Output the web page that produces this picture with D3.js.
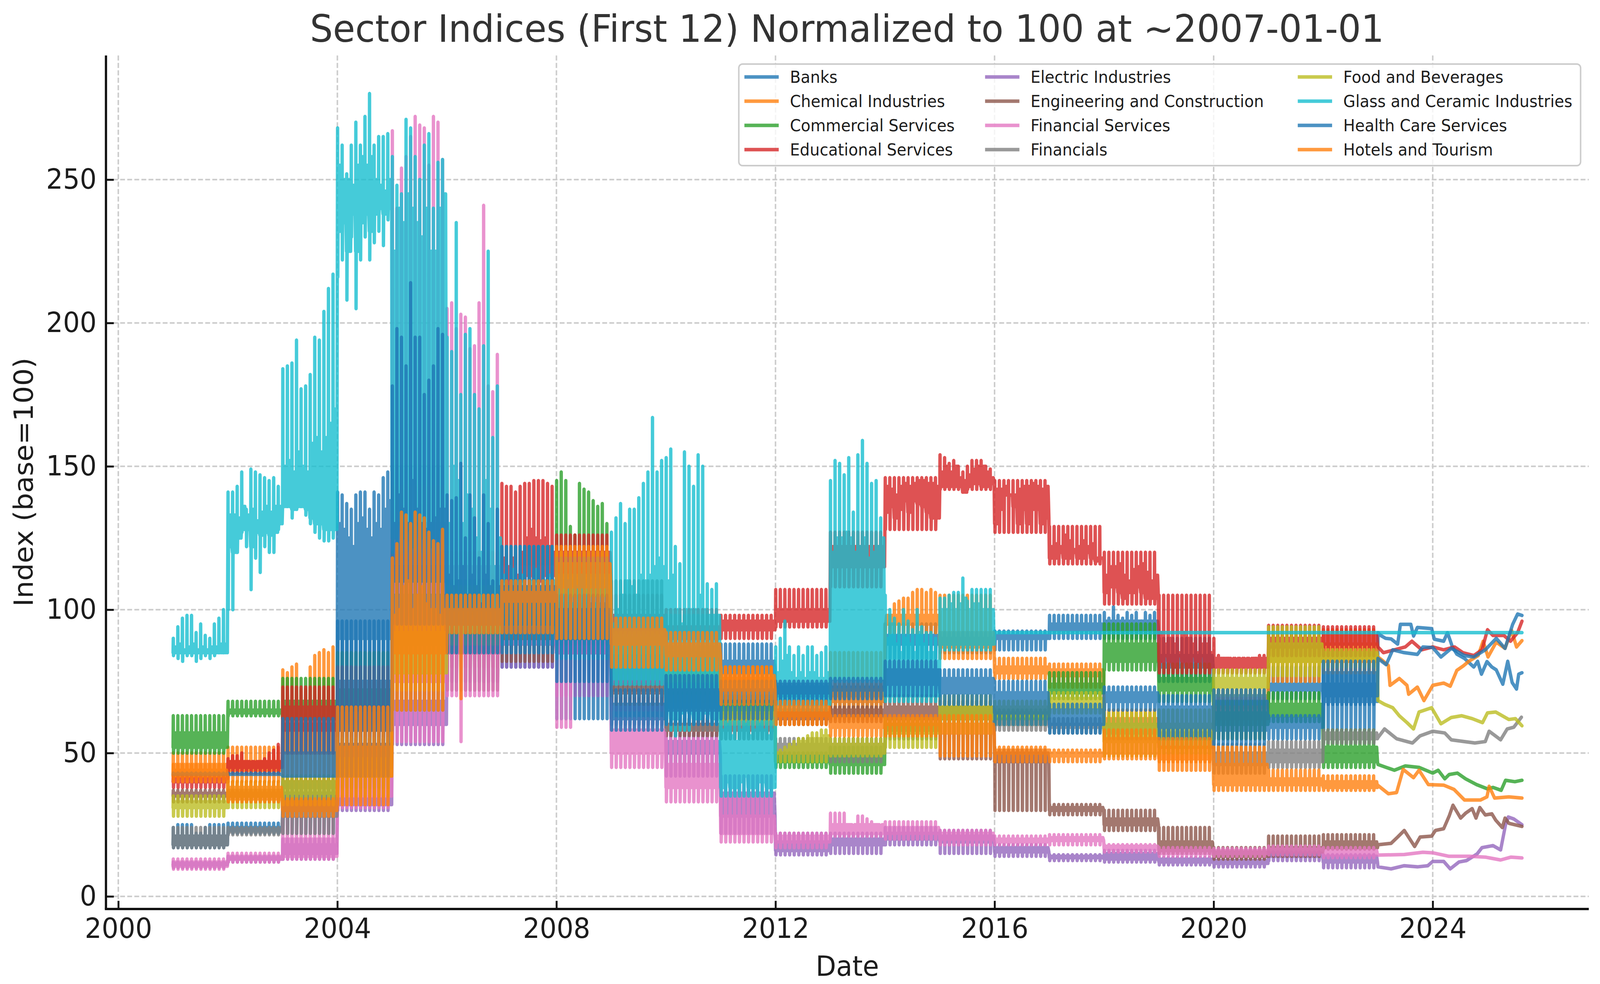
<!DOCTYPE html>
<html><head><meta charset="utf-8">
<script src="https://cdn.jsdelivr.net/npm/d3@7/dist/d3.min.js"></script>
<style>html,body{margin:0;background:#fff;overflow:hidden}svg{display:block;width:100vw;height:100vh;font-family:"DejaVu Sans",sans-serif}</style>
</head><body><svg id="c" viewBox="0 0 4288 2519" preserveAspectRatio="none"></svg>
<script>
const chartTitle="Sector Indices (First 12) Normalized to 100 at ~2007-01-01";
const xLabel="Date", yLabel="Index (base=100)";
const xTicks=[2000,2004,2008,2012,2016,2020,2024];
const yTicks=[0,50,100,150,200,250];
const bandYears=d3.range(2001,2023);
const seriesNames=["Banks","Chemical Industries","Commercial Services","Educational Services","Electric Industries","Engineering and Construction","Financial Services","Financials","Food and Beverages","Glass and Ceramic Industries","Health Care Services","Hotels and Tourism"];
const palette=["#1f77b4","#ff7f0e","#2ca02c","#d62728","#9467bd","#8c564b","#e377c2","#7f7f7f","#bcbd22","#17becf","#1f77b4","#ff7f0e"];

// one entry per year 2001..2022: a number, or a list of monthly read-offs.
// Low/High = spike ends; Base and Fill = the two edges of the solid core of the band.
const banksLow=[17,22,22,60,80,82,80,62,60,58,75,67,66,83,85,86,90,90,75,60,69,58];
const banksBase=[18,23,30,90,95,92,90,85,72,66,78,70,70,88,88,90,93,93,80,66,72,68];
const banksFill=[21,24,36,[130,128,125,122,130,132,128,125,130,128,135,138],115,98,96,92,80,74,82,73,73,91,90,91,95,96,84,70,74,74];
const banksHigh=[[24,25,25,25,25,22,22,24,25,25,25,25],25.5,40,[141,140,137,135,140,141,141,135,141,140,146,148],150,105,110,105,95,88,88,74,74,95,92,92.5,98,[99,97,101,98,97,99,98,99,96,99,98,99],90,72,80,82];
const chemLow=[41,40,40,33,70,85,88,95,78,78,66,60,62,92,83,76,73,55,47,55,75,78];
const chemBase=[42,44,50,42,85,95,102,105,85,84,72,63,68,95,87,78,77,60,52,62,82,82];
const chemFill=[46,47,60,48,95,103,105,112,90,87,76,65,72,98,92,80,79,62,54,66,87,88];
const chemHigh=[50,52,[79,78,80,81,72,72,80,84,85,86,85,87],55,100,112,108,120,95,90,80,67,85,[92,97,102,103,104,104,106,107,107,106,107,106],105,83,81,65,56,72,92,93];
const commLow=[50,63,58,60,75,85,95,97,74,68,60,45,43,55,60,60,69,79,68,55,61,45];
const commBase=[52,64,62,65,85,92,100,105,78,71,64,47,46,58,62,62,71,82,72,60,63,47];
const commFill=[57,65,68,72,92,96,106,110,85,78,68,49,49,60,64,64,74,88,76,64,67,52];
const commHigh=[63,68,76,85,100,100,112,[145,148,145,129,126,144,142,141,138,136,137,130],88,82,70,50,52,62,66,65,78,95,81,68,71,58];
const eduLow=[38,43,50,50,70,80,100,105,85,85,90,94,108,128,142,127,116,102,78,78,84,84];
const eduBase=[40,45,58,58,88,90,[110,108,108,105,110,112,112,110,110,112,112,112],112,92,90,93,96,115,[134,136,132,135,138,134,138,137,136,134,132,132],[143,143,143,143,143,141,143,144,144,143,143,144],[130,135,140,140,136,130,135,130,135,135,130,132],[118,118,120,118,118,120,118,118,120,118,117,118],[106,108,108,106,104,106,106,108,106,104,104,104],[82,84,82,80,84,82,80,84,82,84,80,80],80,87,88];
const eduFill=[41,47,66,66,100,100,[118,115,118,112,120,125,128,125,124,125,122,120],120,98,94,96,100,122,[143,142,140,143,144,143,144,145,145,144,144,143],[148,150,148,150,146,145,147,149,150,150,148,146],[142,142,143,140,140,142,143,143,144,143,142,143],[122,123,122,126,124,121,122,124,122,123,118,118],[112,115,115,116,112,110,114,115,116,113,110,112],[92,88,90,88,85,92,90,88,85,88,88,85],83,90,91];
const eduHigh=[42,[48,49,49,50,47,46,46,47,48,50,51,53],73,80,115,120,[144,143,143,141,143,144,144,145,145,145,144,143],126,105,100,98,107,127,146,[154,153,151,152,150,148,150,152,152,152,150,149],145,129,120,105,[90,84,83,83,82,81,81,80,82,83,84,84],94.5,94];
const elecLow=[10,12,13,30,53,75,80,70,65,42,22,14.5,15,18,15,14,12.5,12,11,10.3,12.5,10];
const elecBase=[11,13,15,32,60,85,88,85,75,50,28,16,18,20,19,15.5,13.5,13,12,11.5,14,12];
const elecFill=[11.5,13.5,18,34,68,92,94,92,82,54,36,19,20,22,21,17,14,15,13,12.5,15,14];
const elecHigh=[12,14,20,35,75,100,100,105,90,57,42,22,22,24,23,18,14.5,16,13.5,13,15.5,14.5];
const engLow=[33,33,33,40,65,72,82,88,67,56,55,60,61,59,48,30,28.5,23,15,13,14,16.5];
const engBase=[35,35,38,48,85,85,90,95,71,58,58,62,63,62,62,47,30,25,16,14,15.5,17];
const engFill=[36,36,40,53,105,92,95,102,73,60,59,64,65,66,66,50,31,27,19,15.5,17,19];
const engHigh=[37,37,42,60,143,100,100,110,75,62,60,66,66,70,68,51,32,30,24,17,21,21.5];
const finSvcLow=[9.5,12,13,31,54,[70,70,70,54,70,70,70,70,70,70,70,70],88,[59,59,59,59,85,85,85,85,85,85,85,85],45,33,19,17,21,20,18,18,18,15.5,14,14,14.5,13.5];
const finSvcBase=[10.5,13,14,35,75,85,95,85,50,38,22,19,22,22,20,19,19.5,16.5,15,15,15.5,14.5];
const finSvcFill=[12,14,20,42,130,115,105,100,58,46,28,21,25,24,22,20,20.5,17.5,16,16,16.5,16];
const finSvcHigh=[13,15,28,47,[267,240,254,258,265,272,269,268,255,272,270,257],[205,207,198,203,202,191,192,207,241,178,176,189],115,110,62,55,35,22,[29,29,29,29,25,23,28,28,27,26,25,22],26,23,21,21.5,18,17,16.7,17.5,17];
const finsLow=[17,21.5,22,38,65,85,85,88,70,58,55,48,47,55,55,58,57,55,52,43,45,53.5];
const finsBase=[18,22.5,28,45,88,95,92,100,85,72,60,50,50,58,62,60,59,57,55,46,47,55];
const finsFill=[21,23.5,36,50,105,105,98,108,96,85,63,53,53,60,66,61,60,60,57,50,51,57];
const finsHigh=[24,24,40,55,120,110,105,115,110,98,65,55,55,62,68,62,62,62,58,53,54,58];
const foodLow=[28,31,32,35,72,88,90,95,80,75,60,47,49,52,57,60,64,49,50,70,77,80];
const foodBase=[31,35,36,42,78,92,97,105,85,80,62,50,50,57,62,63,66,54,55,73,82,83];
const foodFill=[33,37,40,48,92,100,102,112,90,85,64,[50,50,51,52,52,54,54,55,55,55,56,56],53,60,66,66,69,60,60,76,88,85];
const foodHigh=[35,40,42,55,110,108,105,120,92,88,66,[50,51,52,53,54,55,55,56,57,57,58,58],55,62,70,68,71,64,65,79,94,86];
const glassLow=[[84,83,82,84,84,82,83,84,83,84,85,85],[100,100,120,127,122,107,118,113,122,120,120,128],[138,137,132,135,136,133,130,127,125,124,124,125],[216,222,208,230,205,222,230,222,228,232,227,236],120,95,88,83,74,[60,58,56,58,58,58,60,62,64,62,60,60],35,65,75,68,86,92,92,92,92,92,92,92];
const glassBase=[85,[122,120,125,128,128,122,127,126,127,126,127,130],[136,136,135,136,136,135,132,130,130,128,128,128],[232,235,225,238,225,235,238,232,238,240,238,240],[125,130,125,128,122,130,125,128,122,125,128,125],100,95,90,76,[65,62,62,64,66,64,62,62,64,64,62,62],[38,40,38,38,40,42,38,38,40,40,38,38],67,76,70,88,92,92,92,92,92,92,92];
const glassFill=[[87,88,86,87,88,86,87,86,87,87,88,88],[133,133,132,136,133,135,131,134,136,134,136,136],[150,152,148,155,150,148,158,160,155,160,165,170],[255,250,250,248,255,258,255,258,250,248,246,250],[225,240,235,245,240,235,230,240,225,225,240,245],[130,150,145,130,140,135,125,120,145,135,115,125],[112,108,114,110,112,108,110,114,108,110,112,110],[108,105,110,102,108,112,105,100,102,100,96,98],[95,100,105,110,108,105,112,110,112,115,118,115],[110,112,100,95,100,100,100,105,100,98,98,98],[58,60,56,54,58,60,56,58,60,58,56,58],[78,82,84,78,76,78,76,78,78,76,76,78],[120,125,125,127,125,120,122,125,118,120,122,125],[90,95,88,85,90,88,85,92,88,85,85,82],[100,100,102,100,102,104,100,102,102,100,100,100],92,92,92,92,92,92,92];
const glassHigh=[[90,94,97,98,98,92,95,91,90,95,97,100],[141,141,143,148,135,149,148,147,146,145,146,143],[184,185,186,194,177,178,182,195,194,204,212,217],[268,262,252,262,270,262,272,280,262,265,265,266],[258,248,245,271,268,258,250,262,266,240,256,257],[195,190,235,175,196,198,175,170,192,225,160,178],122,118,[127,132,137,130,135,135,139,144,148,167,148,152],[153,156,122,116,155,150,143,154,150,109,107,109],61,[87,90,96,87,84,87,84,87,87,84,85,87],[145,152,151,147,153,134,154,159,151,144,145,132],[105,100,97,95,100,96,93,100,94,92,92,90],[104,104,105,106,106,111,103,107,107,107,107,107],92,92,92,92,92,92,92];
const healthLow=[42.6,42.6,42,42,95,85,85,75,58,60,62,67,69,70,67,60,57,65,55,53,55,67];
const healthBase=[42.6,42.6,42,58,110,95,95,90,62,65,68,71,72,74,71,64,60,68,59,58,59,70];
const healthFill=[42.6,42.6,50,75,[130,140,135,130,145,135,130,128,130,132,135,135],[112,108,110,115,105,112,108,102,112,108,100,108],108,100,67,72,72,74,75,79,76,71,65,71,66,68,62,78];
const healthHigh=[43,43,62,96,[178,198,195,185,214,195,195,175,180,185,198,196],[140,138,139,151,125,140,132,118,140,130,110,135],122,105,72,77,75,75,76,82,79,75,67,73,70,72,63,82];
const hotelsLow=[40,33,28,32,65,[92,92,92,69,92,92,92,92,92,92,92,92],92,90,80,79,67,60,56,56,49,47,47,48,44,37,37,37];
const hotelsBase=[42,34,30,42,85,95,103,108,88,84,72,63,59,60,57,50,49,50,48,39,39,38];
const hotelsFill=[44,38,33,52,[98,100,108,110,100,105,108,102,100,100,98,100],100,106,116,93,88,77,66,62,62,60,51,50,55,52,46,41,40];
const hotelsHigh=[46,40,34,66,[118,123,134,133,130,134,133,132,127,124,123,128],105,110,122,97,92,80,68,63,63,63,52,51,58,55,52,44,42];

// readings after the bands collapse into ordinary lines: [decimal year, value]
const banksTail=[[2023,92],[2023.05,91],[2023.14,90],[2023.24,89.8],[2023.36,88],[2023.41,94.9],[2023.6,94.9],[2023.65,90.8],[2023.72,93.8],[2023.98,93.4],[2024.03,89.7],[2024.2,89],[2024.27,92],[2024.36,87],[2024.44,84.5],[2024.58,83],[2024.75,80],[2024.82,82],[2024.89,77.5],[2024.99,81.9],[2025.08,80],[2025.16,79],[2025.28,74],[2025.37,82],[2025.45,74.6],[2025.53,72.3],[2025.57,77.5],[2025.63,78]];
const chemTail=[[2023,83.5],[2023.1,82],[2023.19,80.5],[2023.22,73.6],[2023.39,76],[2023.53,73.6],[2023.56,70.5],[2023.72,73],[2023.84,68.3],[2024,73.6],[2024.2,74.4],[2024.32,73.3],[2024.44,78.8],[2024.56,80.4],[2024.66,82],[2024.83,84],[2024.92,89],[2025.01,83.5],[2025.16,88.7],[2025.32,86.5],[2025.44,92.8],[2025.53,87],[2025.63,89.2]];
const commTail=[[2023,46],[2023.15,45],[2023.3,44],[2023.5,45.5],[2023.75,45],[2024,43],[2024.1,44],[2024.22,41],[2024.3,42.5],[2024.45,43],[2024.6,41],[2024.8,39],[2025,37.5],[2025.1,38],[2025.25,37],[2025.33,40.5],[2025.5,40],[2025.63,40.5]];
const eduTail=[[2023,87],[2023.1,85],[2023.3,86],[2023.5,87],[2023.62,89],[2023.8,86],[2024,87],[2024.2,86],[2024.4,87],[2024.55,85],[2024.75,84],[2024.9,86],[2025,93],[2025.1,91],[2025.3,91],[2025.42,89],[2025.55,92],[2025.63,96]];
const elecTail=[[2023,10.3],[2023.24,9.6],[2023.48,10.7],[2023.72,10.3],[2023.91,10.7],[2024,12.2],[2024.2,12.2],[2024.32,9.6],[2024.48,12],[2024.62,12.5],[2024.81,14.8],[2024.9,17],[2025.1,17.7],[2025.24,16.2],[2025.33,25],[2025.38,27.7],[2025.48,27],[2025.63,25]];
const engTail=[[2023,18],[2023.24,18.5],[2023.36,20.7],[2023.48,23],[2023.67,17.4],[2023.77,20.7],[2023.98,21],[2024.05,23],[2024.2,23.6],[2024.3,28],[2024.37,31.8],[2024.51,27.3],[2024.6,29],[2024.72,30.6],[2024.79,27.3],[2024.86,31],[2024.96,28.4],[2025.08,28.8],[2025.15,26.6],[2025.27,24],[2025.32,27.3],[2025.39,25.5],[2025.63,24.4]];
const finSvcTail=[[2023,14.4],[2023.48,14.6],[2023.82,15.4],[2024,15.2],[2024.29,14],[2024.67,14],[2024.96,13.7],[2025.24,12.7],[2025.43,13.7],[2025.63,13.4]];
const finsTail=[[2023,55.4],[2023.12,58.4],[2023.34,55],[2023.63,53.5],[2023.77,56],[2024,57.6],[2024.22,57],[2024.34,54.6],[2024.77,53.5],[2024.96,54],[2025.03,57.6],[2025.24,54.6],[2025.36,58.4],[2025.48,59],[2025.62,62.5]];
const foodTail=[[2023,68.3],[2023.12,67],[2023.27,65.8],[2023.39,63],[2023.53,60.6],[2023.65,58.4],[2023.75,64.3],[2023.98,65.8],[2024.15,60.2],[2024.34,62.4],[2024.53,63],[2024.72,62],[2024.91,60.6],[2025,64],[2025.15,64.3],[2025.39,61.7],[2025.51,62],[2025.63,59.5]];
const glassTail=[[2023,92],[2025.63,92]];
const healthTail=[[2023,83],[2023.15,80.8],[2023.27,86],[2023.48,85],[2023.72,84.4],[2023.82,87],[2024,86.8],[2024.15,83.5],[2024.34,86.5],[2024.58,84],[2024.75,83.5],[2024.96,86],[2025.16,90],[2025.32,86.5],[2025.46,94.9],[2025.55,98.5],[2025.63,98]];
const hotelsTail=[[2023,38.7],[2023.19,35.8],[2023.34,36.2],[2023.46,44.3],[2023.65,41.4],[2023.75,44],[2023.92,39],[2024.2,38.8],[2024.39,37.3],[2024.58,33.6],[2024.87,33.6],[2024.99,34.7],[2025.03,38.4],[2025.13,34.3],[2025.39,34.7],[2025.63,34.3]];

const seriesData=[
 [banksLow,banksBase,banksFill,banksHigh,banksTail],[chemLow,chemBase,chemFill,chemHigh,chemTail],
 [commLow,commBase,commFill,commHigh,commTail],[eduLow,eduBase,eduFill,eduHigh,eduTail],
 [elecLow,elecBase,elecFill,elecHigh,elecTail],[engLow,engBase,engFill,engHigh,engTail],
 [finSvcLow,finSvcBase,finSvcFill,finSvcHigh,finSvcTail],[finsLow,finsBase,finsFill,finsHigh,finsTail],
 [foodLow,foodBase,foodFill,foodHigh,foodTail],[glassLow,glassBase,glassFill,glassHigh,glassTail],
 [healthLow,healthBase,healthFill,healthHigh,healthTail],[hotelsLow,hotelsBase,hotelsFill,hotelsHigh,hotelsTail]];

const axisLeft=284,axisRight=4258,axisTop=142,axisBottom=2327;
const x=d3.scaleLinear().domain([1999.775,2026.85]).range([axisLeft,axisRight]);
const y=d3.scaleLinear().domain([-4.4,293.3]).range([axisBottom,axisTop]);
const svg=d3.select("#c");
const ink="#1c1c1c";

// grid
const grid=svg.append("g").attr("stroke","#cccccc").attr("stroke-width",4).attr("stroke-dasharray","13,6");
grid.selectAll(".v").data(xTicks).join("line").attr("x1",d=>x(d)).attr("x2",d=>x(d)).attr("y1",axisTop).attr("y2",axisBottom);
grid.selectAll(".h").data(yTicks).join("line").attr("x1",axisLeft).attr("x2",axisRight).attr("y1",d=>y(d)).attr("y2",d=>y(d));

// each month of a band year: one spike through High and Low, then passes across the solid core
function monthly(v,m){return Array.isArray(v)?v[m]:v;}
function seriesPoints(s){
  const [lo,base,fill,hi,tail]=s, pts=[];
  bandYears.forEach((yr,k)=>{
    d3.range(12).forEach(m=>{
      const t=yr+m/12, b=monthly(base[k],m), f=monthly(fill[k],m);
      pts.push([t,b],[t+0.004,monthly(hi[k],m)],[t+0.008,monthly(lo[k],m)],[t+0.012,b]);
      pts.push([t+0.03,f],[t+0.045,b],[t+0.06,f],[t+0.075,b]);
    });
  });
  return pts.concat(tail);
}
const line=d3.line().x(d=>x(d[0])).y(d=>y(d[1]));
svg.append("g").selectAll("path").data(seriesData).join("path")
  .attr("d",d=>line(seriesPoints(d)))
  .attr("fill","none").attr("stroke",(d,i)=>palette[i]).attr("stroke-opacity",0.8)
  .attr("stroke-width",9).attr("stroke-linejoin","round").attr("stroke-linecap","round");

// axes: ticks point inward
const gx=svg.append("g").attr("transform",`translate(0,${axisBottom})`)
  .call(d3.axisBottom(x).tickValues(xTicks).tickFormat(d3.format("d")).tickSize(-21).tickPadding(24));
const gy=svg.append("g").attr("transform",`translate(${axisLeft},0)`)
  .call(d3.axisLeft(y).tickValues(yTicks).tickSize(-21).tickPadding(25));
[gx,gy].forEach(g=>{
  g.selectAll("text").attr("font-size",71).attr("fill",ink).attr("font-family",'"DejaVu Sans"');
  g.selectAll("line").attr("stroke","#111").attr("stroke-width",5);
  g.select(".domain").attr("stroke","#111").attr("stroke-width",6);
});
gx.select(".domain").attr("d",`M${axisLeft-3},0H${axisRight}`);
gy.select(".domain").attr("d",`M0,${axisTop}V${axisBottom}`);

// titles
svg.append("text").attr("x",2270).attr("y",107).attr("text-anchor","middle").attr("font-size",97).attr("fill","#333").text(chartTitle);
svg.append("text").attr("x",2271).attr("y",2498).attr("text-anchor","middle").attr("font-size",71).attr("fill",ink).text(xLabel);
svg.append("text").attr("transform","translate(88,1234) rotate(-90)").attr("text-anchor","middle").attr("font-size",71).attr("fill",ink).text(yLabel);

// legend
const lg=svg.append("g");
lg.append("rect").attr("x",1980).attr("y",164).attr("width",2256).attr("height",260).attr("rx",10)
  .attr("fill","#fff").attr("fill-opacity",0.8).attr("stroke","#ccc").attr("stroke-width",4);
const colX=[1995,2640,3478], rowY=[197,259,321,383];
seriesNames.forEach((n,i)=>{
  const c=Math.floor(i/4), r=i%4;
  lg.append("line").attr("x1",colX[c]).attr("x2",colX[c]+92).attr("y1",rowY[r]).attr("y2",rowY[r])
    .attr("stroke",palette[i]).attr("stroke-opacity",0.8).attr("stroke-width",9);
  lg.append("text").attr("x",colX[c]+122).attr("y",rowY[r]+15).attr("font-size",42).attr("fill",ink).text(n);
});
</script></body></html>
